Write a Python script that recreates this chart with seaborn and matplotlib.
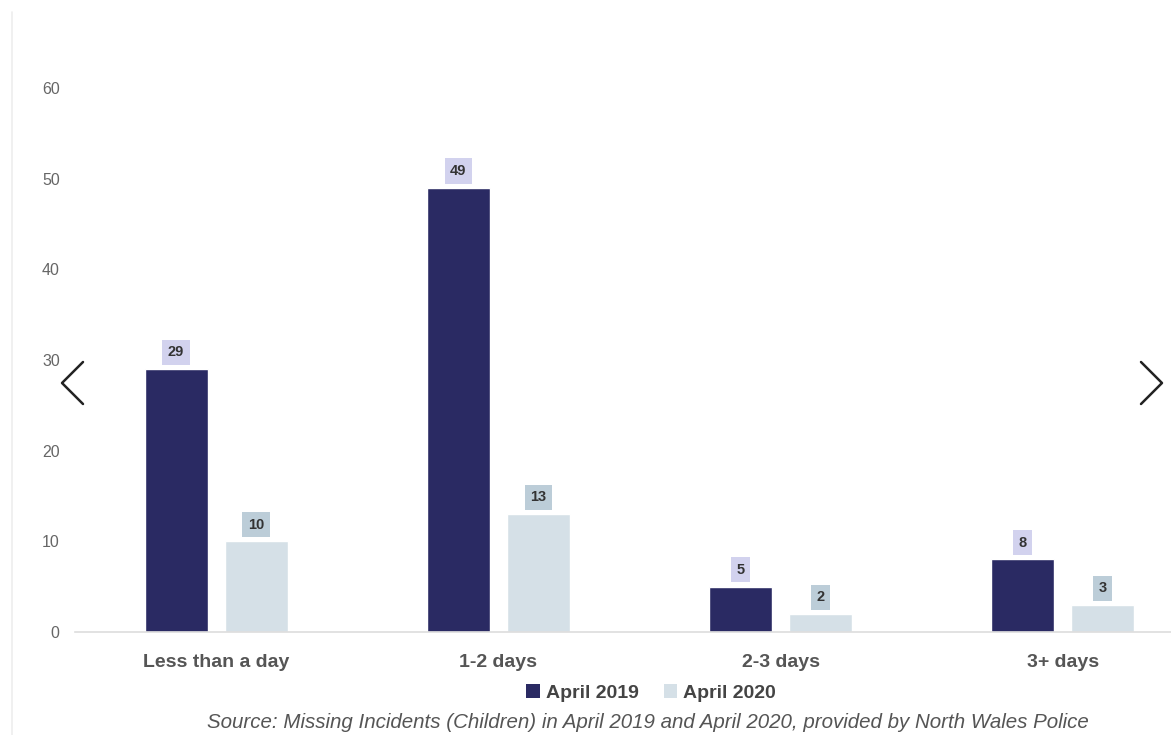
import matplotlib
matplotlib.use("Agg")
import matplotlib.pyplot as plt
from matplotlib.lines import Line2D
from matplotlib.patches import Patch
import pandas as pd
import seaborn as sns

# Missing incidents (children) by duration
durations = ["Less than a day", "1-2 days", "2-3 days", "3+ days"]
april_2019 = [29, 49, 5, 8]
april_2020 = [10, 13, 2, 3]
series_names = ["April 2019", "April 2020"]
y_ticks = [0, 10, 20, 30, 40, 50, 60]

df = pd.DataFrame({
    "duration": durations * 2,
    "incidents": april_2019 + april_2020,
    "period": [series_names[0]] * len(durations) + [series_names[1]] * len(durations),
})

bar_colors = ["#2a2a63", "#d5e0e7"]
label_bg = ["#d2d2ee", "#bccdd8"]

sns.set_theme(style="white")
plt.rcParams["font.family"] = ["Liberation Sans", "DejaVu Sans"]

fig = plt.figure(figsize=(11.71, 7.35), dpi=100)
ax = fig.add_axes([75 / 1171, 103 / 735, 1129 / 1171, 544 / 735])

sns.barplot(data=df, x="duration", y="incidents", hue="period", order=durations,
            hue_order=series_names, palette=bar_colors, width=0.567, gap=0.21,
            saturation=1, ax=ax, legend=False)

for cont, bg in zip(ax.containers, label_bg):
    ax.bar_label(cont, padding=7, fontsize=10.5, fontweight="bold", color="#333333",
                 bbox=dict(boxstyle="square,pad=0.38", facecolor=bg, edgecolor="none"))

ax.set_xlim(-0.5, 3.5)
ax.set_ylim(0, 60)
ax.set_yticks(y_ticks)
ax.tick_params(axis="y", labelsize=11.5, labelcolor="#666666", length=0, pad=11)
ax.tick_params(axis="x", labelsize=14, labelcolor="#555555", length=0, pad=16)
for lbl in ax.get_xticklabels():
    lbl.set_fontweight("bold")
ax.set_xlabel("")
ax.set_ylabel("")
for side in ["top", "right", "left"]:
    ax.spines[side].set_visible(False)
ax.spines["bottom"].set_color("#dddddd")
ax.spines["bottom"].set_linewidth(1.2)

handles = [Patch(facecolor=c, edgecolor="none") for c in bar_colors]
fig.legend(handles, series_names, loc="center", bbox_to_anchor=(651 / 1171, 1 - 693 / 735),
           ncol=2, frameon=False, handlelength=0.7, handleheight=0.7, handletextpad=0.3,
           columnspacing=1.3, prop={"weight": "bold", "size": 14},
           labelcolor="#444444")

fig.text(648 / 1171, 1 - 723 / 735,
         "Source: Missing Incidents (Children) in April 2019 and April 2020, provided by North Wales Police",
         ha="center", va="center", fontsize=14.8, style="italic", color="#555555")

# page border and carousel arrows
fig.add_artist(Line2D([12 / 1171, 12 / 1171], [0, 1 - 12 / 735], color="#eeeeee", lw=1.2))
fig.add_artist(Line2D([83 / 1171, 62 / 1171, 83 / 1171],
                      [1 - 362 / 735, 1 - 383 / 735, 1 - 404 / 735], color="#222222", lw=1.8))
fig.add_artist(Line2D([1141 / 1171, 1162 / 1171, 1141 / 1171],
                      [1 - 362 / 735, 1 - 383 / 735, 1 - 404 / 735], color="#222222", lw=1.8))

fig.savefig("out.png", dpi=100)
